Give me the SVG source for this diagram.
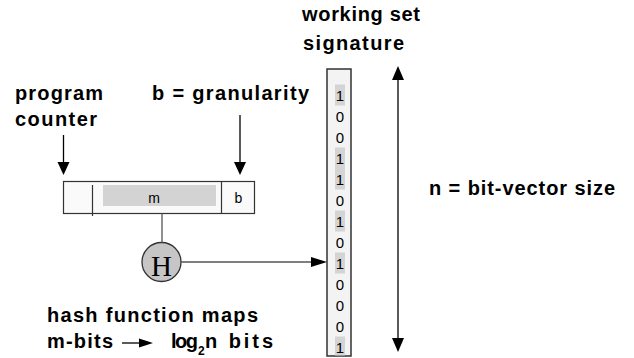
<svg xmlns="http://www.w3.org/2000/svg" width="634" height="358" viewBox="0 0 634 358">
  <style>
    .lbl { font-family: "Liberation Sans", Arial, sans-serif; font-weight: bold; font-size: 20px; fill: #000; }
    .reg { font-family: "Liberation Sans", Arial, sans-serif; font-size: 14px; fill: #000; text-anchor: middle; }
    .bit { font-family: "Liberation Sans", Arial, sans-serif; font-size: 15px; fill: #000; text-anchor: middle; }
    .hl { fill: #d4d4d4; }
    .arrow { stroke: #000; stroke-width: 1.3; fill: none; }
    .wire { stroke: #555; stroke-width: 1.3; fill: none; }
    .head { fill: #000; }
  </style>

  <!-- text labels -->
  <g id="labels">
    <text class="lbl" x="302" y="21" textLength="118" lengthAdjust="spacing">working set</text>
    <text class="lbl" x="303" y="50" textLength="101" lengthAdjust="spacing">signature</text>
    <text class="lbl" x="15" y="100" textLength="88" lengthAdjust="spacing">program</text>
    <text class="lbl" x="15" y="126" textLength="82" lengthAdjust="spacing">counter</text>
    <text class="lbl" x="152" y="100" textLength="157" lengthAdjust="spacing">b = granularity</text>
    <text class="lbl" x="429" y="195" textLength="186" lengthAdjust="spacing">n = bit-vector size</text>
    <text class="lbl" x="47" y="322" textLength="211" lengthAdjust="spacing">hash function maps</text>
    <text class="lbl" x="47" y="348" textLength="66" lengthAdjust="spacing">m-bits</text>
    <text class="lbl" x="171" y="348" textLength="27" lengthAdjust="spacing">log</text>
    <text class="lbl" x="198" y="355" style="font-size:12px">2</text>
    <text class="lbl" x="205" y="348" textLength="68" lengthAdjust="spacing">n bits</text>
    <line class="arrow" x1="122" y1="343" x2="140" y2="343"/>
    <polygon class="head" points="153,343 139,338.5 139,347.5"/>
  </g>

  <!-- program counter register -->
  <g id="register">
    <rect x="63.5" y="181.5" width="191" height="32" fill="#fafafa" stroke="#333" stroke-width="1.2"/>
    <rect x="103" y="185" width="113" height="21" fill="#d3d3d3"/>
    <line x1="221.5" y1="181.5" x2="221.5" y2="213.5" stroke="#333" stroke-width="1.2"/>
    <line x1="92.5" y1="185" x2="92.5" y2="216" stroke="#333" stroke-width="1.2"/>
    <text class="reg" x="154" y="203">m</text>
    <text class="reg" x="238.5" y="203">b</text>
  </g>

  <!-- hash function -->
  <g id="hash">
    <circle cx="161.5" cy="262" r="19.5" fill="#c6c6c6" stroke="#333" stroke-width="1.3"/>
    <text x="161.5" y="275.5" text-anchor="middle" style="font-family:'Liberation Serif','Times New Roman',serif;font-size:29px;fill:#000">H</text>
  </g>

  <!-- bit vector -->
  <g id="signature">
    <rect x="327" y="69" width="24" height="287" fill="#f3f3f3" stroke="#333" stroke-width="1.5"/>
    <rect class="hl" x="335" y="84.5" width="10" height="21"/>
    <rect class="hl" x="335" y="147.5" width="10" height="42"/>
    <rect class="hl" x="335" y="210.5" width="10" height="21"/>
    <rect class="hl" x="335" y="252.5" width="10" height="21"/>
    <rect class="hl" x="335" y="336.5" width="10" height="19"/>
    <text class="bit" x="340" y="100.5">1</text>
    <text class="bit" x="340" y="121.5">0</text>
    <text class="bit" x="340" y="142.5">0</text>
    <text class="bit" x="340" y="163.5">1</text>
    <text class="bit" x="340" y="184.5">1</text>
    <text class="bit" x="340" y="205.5">0</text>
    <text class="bit" x="340" y="226.5">1</text>
    <text class="bit" x="340" y="247.5">0</text>
    <text class="bit" x="340" y="268.5">1</text>
    <text class="bit" x="340" y="289.5">0</text>
    <text class="bit" x="340" y="310.5">0</text>
    <text class="bit" x="340" y="331.5">0</text>
    <text class="bit" x="340" y="352.5">1</text>
  </g>

  <!-- connectors -->
  <g id="connectors">
    <line class="arrow" x1="63.5" y1="135" x2="63.5" y2="163"/>
    <polygon class="head" points="63.5,175 57.5,162 69.5,162"/>
    <line class="arrow" x1="240" y1="115" x2="240" y2="163"/>
    <polygon class="head" points="240,175 234,162 246,162"/>
    <line class="wire" x1="162" y1="213.5" x2="162" y2="242.5"/>
    <line class="wire" x1="181" y1="262" x2="313" y2="262"/>
    <polygon class="head" points="327,262 311,257 311,267"/>
    <line class="arrow" x1="398" y1="78" x2="398" y2="340"/>
    <polygon class="head" points="398,66 392,80 404,80"/>
    <polygon class="head" points="398,352 392,338 404,338"/>
  </g>
</svg>
